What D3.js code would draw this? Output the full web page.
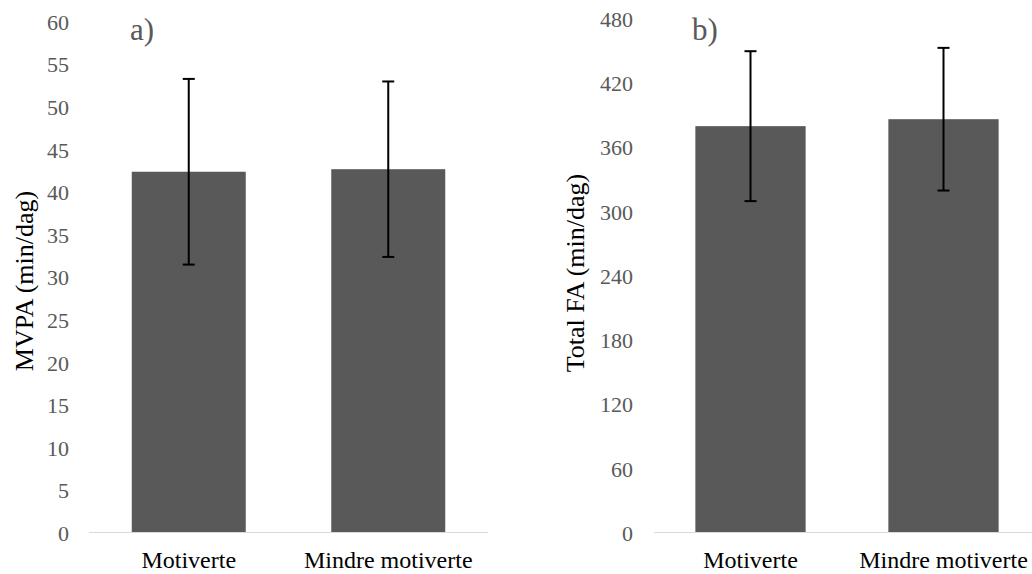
<!DOCTYPE html>
<html>
<head>
<meta charset="utf-8">
<script src="https://cdn.jsdelivr.net/npm/d3@7"></script>
<style>
  body { margin: 0; background: #fff; }
  svg text { font-family: "Liberation Serif", "Times New Roman", serif; }
</style>
</head>
<body>
<div class="chart"></div>
<script>
// data
var groups = ["Motiverte", "Mindre motiverte"];
var mvpaMean = [42.3, 42.6];
var mvpaSD = [10.9, 10.3];
var totalMean = [379, 385.5];
var totalSD = [70, 66.6];
var mvpaTicks = [0, 5, 10, 15, 20, 25, 30, 35, 40, 45, 50, 55, 60];
var totalTicks = [0, 60, 120, 180, 240, 300, 360, 420, 480];

var svgWidth = 1032;
var svgHeight = 574;

var svg = d3.select(".chart")
    .append("svg")
    .attr("width", svgWidth)
    .attr("height", svgHeight);

// one panel = bars + error bars + axes
function drawPanel(opt) {
    var x = d3.scaleBand()
        .domain(groups)
        .range([opt.left, opt.right])
        .paddingInner(0.4286)
        .paddingOuter(0.2143);

    var y = d3.scaleLinear()
        .domain([0, opt.max])
        .range([532, opt.top]);

    var g = svg.append("g");

    // y axis labels only
    var yAxis = g.append("g")
        .attr("transform", `translate(${opt.left}, 0)`)
        .call(d3.axisLeft(y).tickValues(opt.ticks).tickSize(0).tickPadding(opt.pad));
    yAxis.select(".domain").remove();
    yAxis.selectAll("text")
        .attr("fill", "#595959")
        .attr("dy", "0.38em")
        .style("font-family", "Liberation Serif")
        .style("font-size", "22px");

    // bars
    g.selectAll("rect.bar")
        .data(groups)
        .enter()
        .append("rect")
        .attr("class", "bar")
        .attr("x", d => x(d))
        .attr("width", x.bandwidth())
        .attr("y", (d, i) => y(opt.mean[i]))
        .attr("height", (d, i) => y(0) - y(opt.mean[i]))
        .attr("fill", "#595959");

    // baseline
    g.append("line")
        .attr("x1", opt.left)
        .attr("x2", opt.right)
        .attr("y1", y(0) + 0.5)
        .attr("y2", y(0) + 0.5)
        .attr("stroke", "#d9d9d9")
        .attr("stroke-width", 1.2);

    // error bars
    var err = g.selectAll("g.err")
        .data(groups)
        .enter()
        .append("g")
        .attr("class", "err")
        .attr("stroke", "#000")
        .attr("stroke-width", 2);
    var cx = d => x(d) + x.bandwidth() / 2;
    err.append("line")
        .attr("x1", cx).attr("x2", cx)
        .attr("y1", (d, i) => y(opt.mean[i] + opt.sd[i]))
        .attr("y2", (d, i) => y(opt.mean[i] - opt.sd[i]));
    err.append("line")
        .attr("x1", d => cx(d) - 6).attr("x2", d => cx(d) + 6)
        .attr("y1", (d, i) => y(opt.mean[i] + opt.sd[i]))
        .attr("y2", (d, i) => y(opt.mean[i] + opt.sd[i]));
    err.append("line")
        .attr("x1", d => cx(d) - 6).attr("x2", d => cx(d) + 6)
        .attr("y1", (d, i) => y(opt.mean[i] - opt.sd[i]))
        .attr("y2", (d, i) => y(opt.mean[i] - opt.sd[i]));

    // category labels
    g.selectAll("text.cat")
        .data(groups)
        .enter()
        .append("text")
        .attr("class", "cat")
        .attr("x", cx)
        .attr("y", 568)
        .attr("text-anchor", "middle")
        .attr("fill", "#000")
        .style("font-size", "24px")
        .text(d => d);

    // axis title
    g.append("text")
        .attr("transform", `translate(${opt.titleX}, ${opt.titleY}) rotate(-90)`)
        .attr("text-anchor", "middle")
        .attr("fill", "#000")
        .style("font-size", opt.titleSize)
        .text(opt.title);

    // panel letter
    g.append("text")
        .attr("x", opt.letterX)
        .attr("y", 40)
        .attr("fill", "#595959")
        .style("font-size", "31px")
        .text(opt.letter);
}

drawPanel({
    left: 89, right: 488, top: 21, max: 60,
    ticks: mvpaTicks, mean: mvpaMean, sd: mvpaSD, pad: 20,
    title: "MVPA (min/dag)", titleX: 33, titleY: 281, titleSize: "26px",
    letter: "a)", letterX: 130
});

drawPanel({
    left: 654, right: 1040, top: 18, max: 480,
    ticks: totalTicks, mean: totalMean, sd: totalSD, pad: 21,
    title: "Total FA (min/dag)", titleX: 584, titleY: 273, titleSize: "26px",
    letter: "b)", letterX: 692
});
</script>
</body>
</html>
